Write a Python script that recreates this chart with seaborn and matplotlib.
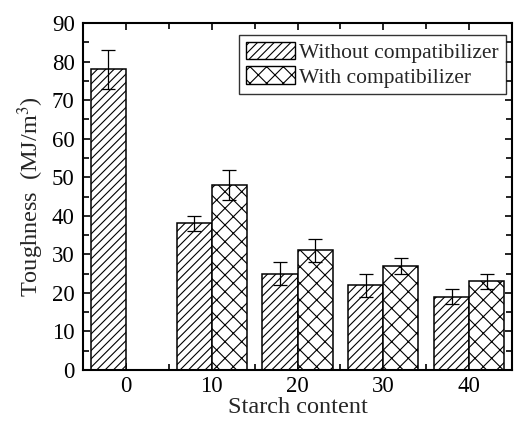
import numpy as np
import pandas as pd
import seaborn as sns
import matplotlib
matplotlib.use("Agg")
import matplotlib.pyplot as plt
from matplotlib.patches import Patch
from matplotlib.ticker import MultipleLocator

# Toughness of the blends versus starch content
starch_content = ["0", "10", "20", "30", "40"]
without_comp = [78, 38, 25, 22, 19]
without_err = [5, 2, 3, 3, 2]
with_comp = [np.nan, 48, 31, 27, 23]
with_err = [np.nan, 4, 3, 2, 2]
series_names = ["Without compatibilizer", "With compatibilizer"]
hatches = ["////", "xx"]

sns.set_theme(style="ticks")
plt.rcParams["font.family"] = ["Liberation Serif", "DejaVu Serif"]
plt.rcParams["mathtext.fontset"] = "stix"
plt.rcParams["hatch.linewidth"] = 0.8

df = pd.DataFrame({
    "content": starch_content * 2,
    "toughness": without_comp + with_comp,
    "err": without_err + with_err,
    "series": [series_names[0]] * len(starch_content) + [series_names[1]] * len(starch_content),
})

fig = plt.figure(figsize=(5.14, 4.26), dpi=100)
ax = fig.add_axes([83 / 514, 1 - 370 / 426, (512 - 83) / 514, (370 - 23) / 426])

sns.barplot(data=df, x="content", y="toughness", hue="series", order=starch_content,
            hue_order=series_names, palette=["white", "white"], edgecolor="black",
            linewidth=1.1, width=0.82, errorbar=None, legend=False, ax=ax)

# apply hatching and error bars per series
for cont, hatch, name in zip(ax.containers, hatches, series_names):
    sub = df[df["series"] == name].reset_index(drop=True)
    for bar in cont:
        bar.set_hatch(hatch)
        h = bar.get_height()
        if not np.isfinite(h) or h == 0:
            continue
        cx = bar.get_x() + bar.get_width() / 2
        idx = int(round(cx))
        e = sub.loc[idx, "err"]
        ax.errorbar(cx, h, yerr=e, fmt="none", ecolor="black", elinewidth=0.9,
                    capsize=5, capthick=0.9, zorder=5)

ax.set_xlim(-0.5, 4.5)
ax.set_ylim(0, 90)
ax.yaxis.set_major_locator(MultipleLocator(10))
ax.yaxis.set_minor_locator(MultipleLocator(5))
ax.xaxis.set_minor_locator(MultipleLocator(0.5))
ax.tick_params(which="both", direction="in", top=True, right=True, width=1.2,
               labelsize=16.5, colors="black")
ax.tick_params(which="major", length=5)
ax.tick_params(axis="y", which="major", pad=6)
ax.tick_params(axis="x", which="major", pad=4)
ax.tick_params(which="minor", length=4)
for s in ax.spines.values():
    s.set_linewidth(1.5)
    s.set_color("black")

ax.set_xlabel("Starch content", fontsize=17.5, labelpad=0)
ax.set_ylabel("Toughness  (MJ/m$^3$)", fontsize=17.5, labelpad=4)

handles = [Patch(facecolor="white", edgecolor="black", hatch=h, linewidth=1.0) for h in hatches]
leg = ax.legend(handles, series_names, loc="upper right", fontsize=15.5, frameon=True,
                fancybox=False, edgecolor="black", handlelength=2.3, handleheight=0.9,
                handletextpad=0.2, borderpad=0.3, labelspacing=0.15,
                bbox_to_anchor=(0.985, 0.965), borderaxespad=0)
leg.get_frame().set_linewidth(1.0)

fig.savefig("out.png", dpi=100)
